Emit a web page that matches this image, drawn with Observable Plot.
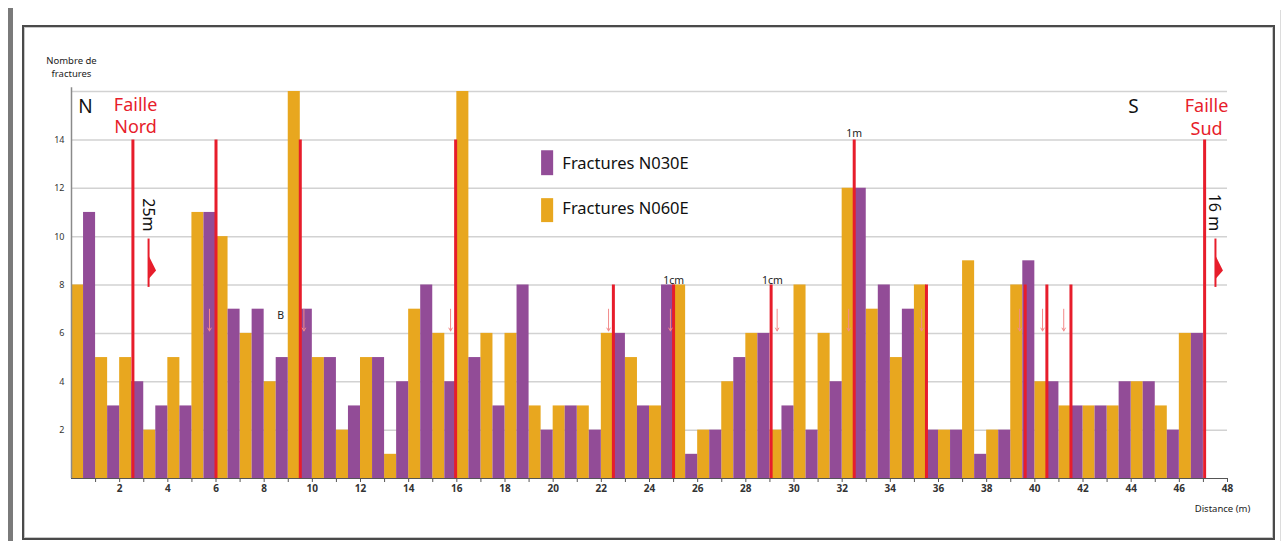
<!DOCTYPE html>
<html>
<head>
<meta charset="utf-8">
<script src="https://cdn.jsdelivr.net/npm/d3@7"></script>
<script src="https://cdn.jsdelivr.net/npm/@observablehq/plot@0.6"></script>
<style>
  html, body { margin: 0; padding: 0; background: #fff; }
  #wrap { position: relative; width: 1283px; height: 541px; overflow: hidden; font-family: "Noto Sans", sans-serif; }
  .bar { position: absolute; left: 8px; top: 8px; width: 5px; height: 533px; background: #7a7a7a; }
  .box { position: absolute; left: 22px; top: 25px; width: 1249px; height: 511px; border: 2px solid #4a4a4a; box-shadow: inset 0 0 0 1px #c8c8c8; }
  .edge { position: absolute; left: 1280px; top: 10px; width: 1px; height: 531px; background: #dcdcdc; }
  #chart { position: absolute; left: 0; top: 0; }
</style>
</head>
<body>
<div id="wrap">
  <div class="bar"></div>
  <div class="box"></div>
  <div class="edge"></div>
  <div id="chart"></div>
</div>
<script>
// Distance (m): start of each 1 m interval
const metres = [0,1,2,3,4,5,6,7,8,9,10,11,12,13,14,15,16,17,18,19,20,21,22,23,24,25,26,27,28,29,30,31,32,33,34,35,36,37,38,39,40,41,42,43,44,45,46];
// Fractures N060E (first half of each metre)
const n060e = [8,5,5,2,5,11,10,6,4,16,5,2,5,1,7,6,16,6,6,3,3,3,6,5,3,8,2,4,6,2,8,6,12,7,5,8,2,9,2,8,4,3,3,3,4,3,6];
// Fractures N030E (second half of each metre)
const n030e = [11,3,4,3,3,11,7,7,5,7,5,3,5,4,8,4,5,3,8,2,3,2,6,3,8,1,2,5,6,3,2,4,12,8,7,2,2,1,2,9,4,3,3,4,4,2,6];

// Faults (red lines): position (m) and top (count)
const faultX   = [2.55, 6, 9.5, 15.95, 22.5, 25, 29.05, 32.5, 35.5, 39.6, 40.5, 41.5, 47.05];
const faultTop = [14, 14, 14, 14, 8, 8, 8, 14, 8, 8, 8, 8, 14];
// Small slip arrows next to faults
const slipX = [5.73, 9.65, 15.74, 22.3, 24.87, 29.3, 32.27, 35.3, 39.37, 40.32, 41.2];

// Annotation labels
const smallLabels = [
  {x: 32.5, y: 14.1, text: "1m"},
  {x: 25.0, y: 8.05, text: "1cm"},
  {x: 29.1, y: 8.05, text: "1cm"},
  {x: 8.68, y: 6.6, text: "B"}
];
const dirLabels = [{x: 0.58, y: 15.38, text: "N"}, {x: 44.1, y: 15.35, text: "S"}];
const faultNames = [
  {x: 2.66, y: 15.42, text: "Faille"}, {x: 2.66, y: 14.52, text: "Nord"},
  {x: 47.13, y: 15.4, text: "Faille"}, {x: 47.13, y: 14.45, text: "Sud"}
];
const throwLabels = [{x: 3.2, y: 10.9, text: "25m"}, {x: 47.43, y: 11.0, text: "16 m"}];
const throwArrows = [{x: 3.2, y1: 7.9, y2: 9.9}, {x: 47.5, y1: 7.9, y2: 9.9}];
const legendItems = [
  {name: "Fractures N030E", color: "#924c97", y1: 12.52, y2: 13.55, ty: 13.02},
  {name: "Fractures N060E", color: "#e8a71f", y1: 10.58, y2: 11.57, ty: 11.16}
];
const yTicks = [2,4,6,8,10,12,14];
const gridTicks = [2,4,6,8,10,12,14,16];
const xTicks = d3.range(1, 49);

const purple = "#924c97", yellow = "#e8a71f", red = "#e71d2b";

const yellowData = metres.map((m, i) => ({x1: m, x2: m + 0.5, y: n060e[i]}));
const purpleData = metres.map((m, i) => ({x1: m + 0.5, x2: m + 1, y: n030e[i]}));
const faults = faultX.map((x, i) => ({x, top: faultTop[i]}));

const halfHead = {
  draw(ctx) {
    ctx.moveTo(0, -14);
    ctx.lineTo(7, 0);
    ctx.lineTo(0, 8);
    ctx.closePath();
  }
};

const chart = Plot.plot({
  width: 1283,
  height: 541,
  marginLeft: 71,
  marginRight: 56,
  marginTop: 91,
  marginBottom: 63,
  style: {background: "transparent", fontFamily: "Noto Sans, sans-serif"},
  x: {domain: [0, 48]},
  y: {domain: [0, 16]},
  marks: [
    Plot.gridY(gridTicks, {stroke: "#d2d2d2", strokeOpacity: 1, strokeWidth: 1.5}),
    Plot.rect(yellowData, {x1: "x1", x2: "x2", y1: 0, y2: "y", fill: yellow, inset: 0}),
    Plot.rect(purpleData, {x1: "x1", x2: "x2", y1: 0, y2: "y", fill: purple, inset: 0}),
    Plot.ruleX([0], {y1: 0, y2: 16.15, stroke: "#8a8a8a", strokeWidth: 1.5}),
    Plot.ruleY([0], {x1: 0, x2: 48, stroke: "#555", strokeWidth: 1}),
    Plot.axisY(yTicks, {tickSize: 0, tickPadding: 7, fontSize: 9, fill: "#333", label: null}),
    Plot.axisX(xTicks, {tickSize: 4, stroke: "#555", tickFormat: d => d % 2 === 0 ? d : "", fontSize: 10, fontWeight: "bold", fill: "#333", tickPadding: 2, label: null}),
    Plot.ruleX(faults, {x: "x", y1: 0, y2: "top", stroke: red, strokeWidth: 3}),
    Plot.arrow(slipX, {x1: d => d, x2: d => d, y1: 7.0, y2: 6.1, stroke: "#f28a8a", strokeWidth: 1, headLength: 5}),
    Plot.ruleX(throwArrows, {x: "x", y1: "y1", y2: "y2", stroke: red, strokeWidth: 2}),
    Plot.dot(throwArrows, {x: "x", y: 8.6, symbol: halfHead, fill: red, stroke: "none", dx: 0.5}),
    Plot.text(throwLabels, {x: "x", y: "y", text: "text", rotate: 90, fontSize: 16, fill: "#111"}),
    Plot.text(smallLabels, {x: "x", y: "y", text: "text", fontSize: 10.5, fill: "#222", textAnchor: "middle", lineAnchor: "bottom"}),
    Plot.text(dirLabels, {x: "x", y: "y", text: "text", fontSize: 19, fill: "#111", lineAnchor: "middle"}),
    Plot.text(faultNames, {x: "x", y: "y", text: "text", fontSize: 18, fill: red, lineAnchor: "middle", letterSpacing: "-0.3px"}),
    Plot.rect(legendItems, {x1: 19.52, x2: 20.02, y1: "y1", y2: "y2", fill: "color"}),
    Plot.text(legendItems, {x: 20.38, y: "ty", text: "name", textAnchor: "start", fontSize: 16.5, fill: "#111"}),
    Plot.text(["Nombre de\nfractures"], {x: 0, y: 16, text: d => d, dy: -25, fontSize: 9.5, fill: "#222", textAnchor: "middle", lineHeight: 1.4, letterSpacing: "-0.3px"}),
    Plot.text(["Distance (m)"], {x: 48, y: 0, text: d => d, dy: 30, dx: -5, fontSize: 9.5, fill: "#222", textAnchor: "middle", letterSpacing: "-0.3px"})
  ]
});
document.getElementById("chart").append(chart);
</script>
</body>
</html>
